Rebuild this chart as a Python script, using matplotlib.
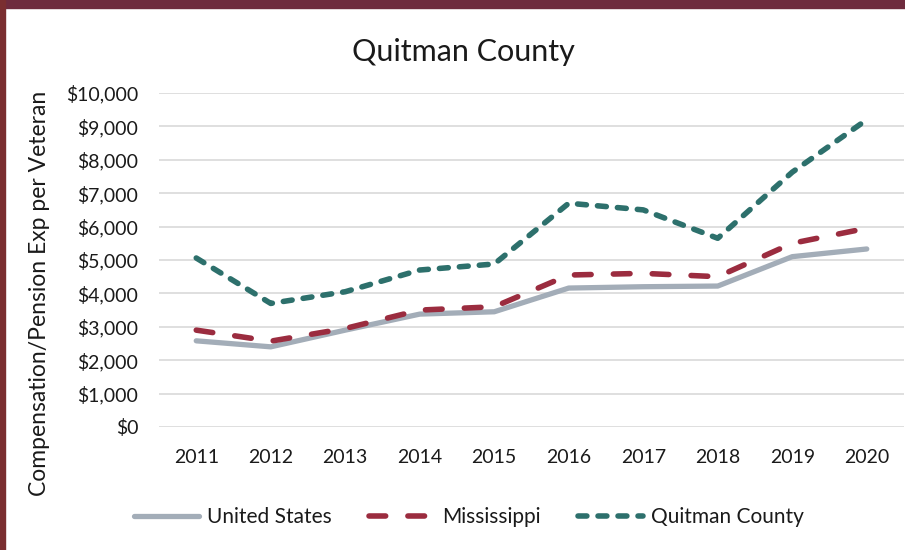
import matplotlib.pyplot as plt
from matplotlib.patches import Rectangle
from matplotlib.ticker import FuncFormatter

# datos
years = [2011, 2012, 2013, 2014, 2015, 2016, 2017, 2018, 2019, 2020]
united_states = [2580, 2400, 2900, 3380, 3450, 4160, 4200, 4220, 5100, 5330]
mississippi = [2900, 2570, 2950, 3500, 3600, 4550, 4600, 4500, 5500, 5950]
quitman_county = [5060, 3700, 4050, 4700, 4880, 6700, 6500, 5650, 7630, 9200]

plt.rcParams["font.family"] = ["Lato", "DejaVu Sans"]
TEXT = "#1a1a1a"

def plot_chart():
    fig = plt.figure(figsize=(9.05, 5.5), dpi=100)

    # marco granate (arriba e izquierda)
    fig.patches.append(Rectangle((0, 1 - 8 / 550), 1, 8 / 550, transform=fig.transFigure,
                                 color="#6E2B3E", zorder=0))
    fig.patches.append(Rectangle((0, 0), 5 / 905, 1, transform=fig.transFigure,
                                 color="#7A2E30", zorder=0))

    ax = fig.add_axes([159 / 905, 1 - 427 / 550, 745 / 905, (427 - 93) / 550])
    x = list(range(len(years)))

    ax.plot(x, united_states, color="#A3ADB8", lw=3.8, solid_capstyle="round", label="United States")
    ax.plot(x, mississippi, color="#9B2C3F", lw=4, dashes=(3.0, 4.0), dash_capstyle="round",
            label="Mississippi")
    ax.plot(x, quitman_county, color="#2D706C", lw=4, dashes=(1.6, 2.0), dash_capstyle="round",
            label="Quitman County")

    ax.set_xlim(-0.5, len(years) - 0.5)
    ax.set_ylim(0, 10000)
    ax.set_yticks(range(0, 10001, 1000))
    ax.yaxis.set_major_formatter(FuncFormatter(lambda v, p: f"${v:,.0f}"))
    ax.set_xticks(x)
    ax.set_xticklabels([str(y) for y in years])

    ax.grid(axis="y", color="#D9D9D9", lw=1.2)
    ax.set_axisbelow(True)
    for s in ax.spines.values():
        s.set_visible(False)
    ax.tick_params(length=0, labelsize=14, colors=TEXT)
    ax.tick_params(axis="y", pad=15)
    ax.tick_params(axis="x", pad=16)

    fig.text(463 / 905, 1 - 52 / 550, "Quitman County", ha="center", va="center",
             fontsize=22, color=TEXT)
    fig.text(40 / 905, 1 - 293 / 550, "Compensation/Pension Exp per Veteran", rotation=90,
             ha="center", va="center", fontsize=16.5, color=TEXT)

    fig.legend(loc="center", bbox_to_anchor=(469 / 905, 1 - 517 / 550), ncol=3, frameon=False,
               fontsize=15, handlelength=3.1, columnspacing=1.8, handletextpad=0.4,
               labelcolor=TEXT)

    fig.savefig("out.png", dpi=100)

def main():
    plot_chart()

if __name__ == "__main__":
    main()
